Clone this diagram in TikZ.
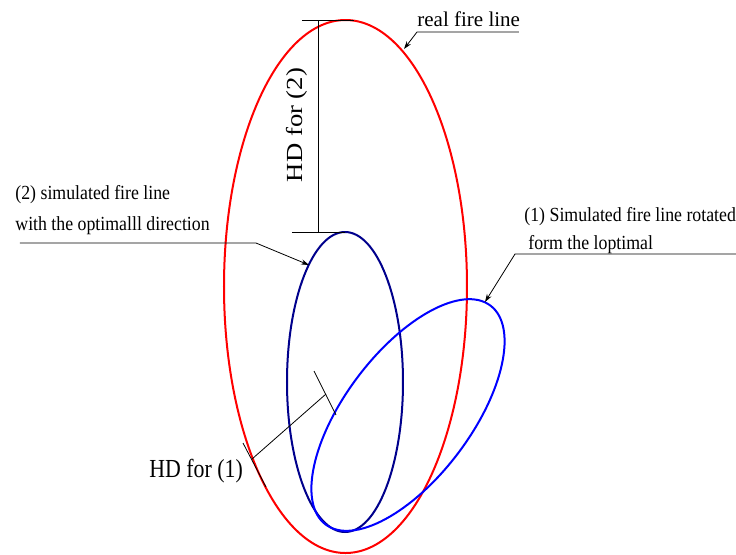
\documentclass[tikz,border=0pt]{standalone}
\usepackage{fontspec}
\setmainfont{Liberation Serif}
\usetikzlibrary{arrows.meta}

\begin{document}
\begin{tikzpicture}[x=0.5pt, y=-0.5pt, >={Stealth[length=4pt,width=2.6pt]},
  realfire/.style={red, line width=1pt},
  simfire/.style={blue!55!black, line width=1pt},
  rotfire/.style={blue, line width=1pt},
  leader/.style={black, line width=0.4pt},
  dimline/.style={black, line width=0.4pt},
  lbl/.style={inner sep=0pt, anchor=base west, font=\fontsize{10}{12}\selectfont}]
\useasboundingbox (0,0) rectangle (736,554);
% the three fire lines
\draw[realfire] (345.5,286.5) ellipse [x radius=121.5, y radius=266.5];
\draw[simfire] (345,382) ellipse [x radius=58, y radius=150];
\draw[rotfire, rotate around={-37:(408,415)}] (408,415) ellipse [x radius=63, y radius=137];
% labels
\node[lbl, font=\fontsize{10.5}{12}\selectfont] (real) at (417,26) {real fire line};
\node[lbl] (sim1) at (15,199) {\scalebox{0.89}[1]{(2) simulated fire line}};
\node[lbl] (sim2) at (15,230) {\scalebox{0.89}[1]{with the optimalll direction}};
\node[lbl] (rot1) at (524,221) {\scalebox{0.89}[1]{(1) Simulated fire line rotated}};
\node[lbl] (rot2) at (528,249) {\scalebox{0.89}[1]{form the loptimal}};
\node[lbl, font=\fontsize{13}{15}\selectfont] (hd1) at (149,477) {\scalebox{0.84}[1]{HD for (1)}};
\node[inner sep=0pt, anchor=base, rotate=90, font=\fontsize{11.5}{14}\selectfont] (hd2) at (302,125) {\scalebox{1.16}[1]{HD for (2)}};
% leaders
\coordinate (realend) at (519,32);
\coordinate (realknee) at (417,32);
\coordinate (realtip) at (404,49);
\draw[leader,->] (realend) -- (realknee) -- (realtip);
\coordinate (simend) at (20,243);
\coordinate (simknee) at (256,243);
\coordinate (simtip) at (309,265);
\draw[leader,->] (simend) -- (simknee) -- (simtip);
\coordinate (rotend) at (736,254);
\coordinate (rotknee) at (515,254);
\coordinate (rottip) at (485,302);
\draw[leader,->] (rotend) -- (rotknee) -- (rottip);
% HD for (2)
\coordinate (hdtop) at (318,20);
\coordinate (hdbot) at (318,232);
\draw[dimline] (hdtop) -- (hdbot);
\draw[dimline] (302,20) -- (354,20);
\draw[dimline] (292,232) -- (345,232);
% HD for (1)
\coordinate (hdred) at (252,459);
\coordinate (hdblue) at (326,394);
\draw[dimline] (hdred) -- (hdblue);
\draw[dimline] (243,443) -- (266,487);
\draw[dimline] (314,371) -- (336,415);
\end{tikzpicture}
\end{document}
